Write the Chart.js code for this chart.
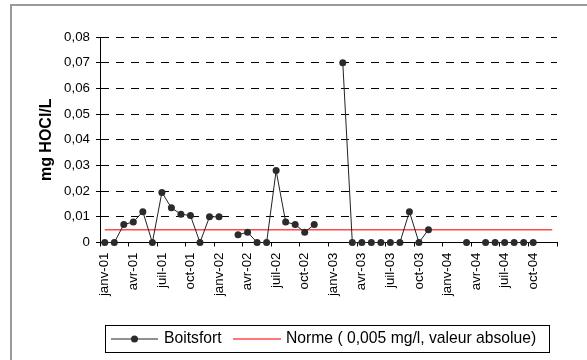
<!DOCTYPE html>
<html>
<head>
<meta charset="utf-8">
<script src="https://cdn.jsdelivr.net/npm/chart.js@4/dist/chart.umd.min.js"></script>
<style>
  html, body { margin: 0; padding: 0; background: #fff; }
  #wrap { width: 587px; height: 360px; position: relative; }
</style>
</head>
<body>
<div id="wrap"><canvas id="chart" width="587" height="360"></canvas></div>
<script>
const categories = [
  'janv-01', 'févr-01', 'mars-01', 'avr-01', 'mai-01', 'juin-01', 'juil-01', 'août-01', 'sept-01', 'oct-01', 'nov-01', 'déc-01',
  'janv-02', 'févr-02', 'mars-02', 'avr-02', 'mai-02', 'juin-02', 'juil-02', 'août-02', 'sept-02', 'oct-02', 'nov-02', 'déc-02',
  'janv-03', 'févr-03', 'mars-03', 'avr-03', 'mai-03', 'juin-03', 'juil-03', 'août-03', 'sept-03', 'oct-03', 'nov-03', 'déc-03',
  'janv-04', 'févr-04', 'mars-04', 'avr-04', 'mai-04', 'juin-04', 'juil-04', 'août-04', 'sept-04', 'oct-04', 'nov-04', 'déc-04',
];

const boitsfort = [
  0, 0, 0.007, 0.008, 0.012, 0, 0.0195, 0.0135, 0.011, 0.0105, 0, 0.01,
  0.01, null, 0.003, 0.004, 0, 0, 0.028, 0.008, 0.007, 0.004, 0.007, null,
  null, 0.07, 0, 0, 0, 0, 0, 0, 0.012, 0, 0.005, null,
  null, null, 0, null, 0, 0, 0, 0, 0, 0, null, null,
];

const norme = [
  0.005, 0.005, 0.005, 0.005, 0.005, 0.005, 0.005, 0.005, 0.005, 0.005, 0.005, 0.005,
  0.005, 0.005, 0.005, 0.005, 0.005, 0.005, 0.005, 0.005, 0.005, 0.005, 0.005, 0.005,
  0.005, 0.005, 0.005, 0.005, 0.005, 0.005, 0.005, 0.005, 0.005, 0.005, 0.005, 0.005,
  0.005, 0.005, 0.005, 0.005, 0.005, 0.005, 0.005, 0.005, 0.005, 0.005, 0.005, 0.005,
];

const FONT = "'Liberation Sans', Arial, sans-serif";

/* PLUGINS */

// grey frame around the whole chart
const frame = {
  id: 'frame',
  beforeDraw(chart) {
    const { ctx } = chart;
    ctx.save();
    ctx.fillStyle = '#fff';
    ctx.fillRect(0, 0, chart.width, chart.height);
    ctx.strokeStyle = '#999';
    ctx.lineWidth = 2;
    ctx.strokeRect(11, 5, 600, 400);
    ctx.restore();
  },
};

// boxed legend under the axis, line + marker samples
const boxLegend = {
  id: 'boxLegend',
  afterDraw(chart) {
    const { ctx } = chart;
    const sets = chart.data.datasets;
    const y = 339;

    ctx.save();
    ctx.strokeStyle = '#000';
    ctx.lineWidth = 1;
    ctx.strokeRect(105.5, 325.5, 444, 27);

    ctx.font = `15.7px ${FONT}`;
    ctx.textBaseline = 'middle';
    ctx.fillStyle = '#000';

    // Boitsfort
    ctx.strokeStyle = sets[0].borderColor;
    ctx.beginPath();
    ctx.moveTo(111, y);
    ctx.lineTo(158, y);
    ctx.stroke();
    ctx.fillStyle = sets[0].pointBackgroundColor;
    ctx.beginPath();
    ctx.arc(134.5, y, 3.5, 0, Math.PI * 2);
    ctx.fill();
    ctx.fillStyle = '#000';
    ctx.fillText(sets[0].label, 164, y);

    // Norme
    ctx.strokeStyle = sets[1].borderColor;
    ctx.lineWidth = sets[1].borderWidth;
    ctx.beginPath();
    ctx.moveTo(233, y);
    ctx.lineTo(281, y);
    ctx.stroke();
    ctx.fillText(sets[1].label, 286, y);
    ctx.restore();
  },
};

/* CHART */

const ctx = document.getElementById('chart').getContext('2d');

new Chart(ctx, {
  type: 'line',
  data: {
    labels: categories,
    datasets: [
      {
        label: 'Boitsfort',
        data: boitsfort,
        borderColor: '#222',
        borderWidth: 1,
        pointBackgroundColor: '#2b2b2b',
        pointBorderColor: '#2b2b2b',
        pointRadius: 3.5,
        pointBorderWidth: 0,
        spanGaps: false,
        clip: false,
      },
      {
        label: 'Norme ( 0,005 mg/l, valeur absolue)',
        data: norme,
        borderColor: '#ff4a4a',
        borderWidth: 1.5,
        pointRadius: 0,
        clip: false,
      },
    ],
  },
  options: {
    responsive: false,
    animation: false,
    layout: { padding: { left: 0, right: 30, top: 37, bottom: 0 } },
    plugins: {
      legend: { display: false },
      tooltip: { enabled: false },
    },
    scales: {
      x: {
        type: 'category',
        offset: true,
        grid: {
          offset: true,
          drawOnChartArea: false,
          drawTicks: true,
          tickLength: 4,
          color: (c) => ((c.index === undefined || c.index % 3 === 0) ? '#000' : 'rgba(0,0,0,0)'),
        },
        border: { display: true, color: '#000', width: 1 },
        ticks: {
          autoSkip: false,
          minRotation: 90,
          maxRotation: 90,
          padding: 6,
          color: '#000',
          font: { family: FONT, size: 13.3 },
          callback: (v, i) => (i % 3 === 0 ? categories[i] : ''),
        },
        afterFit(scale) {
          scale.height = 117.5;
        },
      },
      y: {
        min: 0,
        max: 0.08,
        grid: { color: '#000', tickLength: 4, drawTicks: true },
        border: { display: true, color: '#000', width: 1, dash: [8, 7] },
        ticks: {
          stepSize: 0.01,
          padding: 6,
          color: '#000',
          font: { family: FONT, size: 13.3 },
          callback: (v) => (v === 0 ? '0' : v.toFixed(2).replace('.', ',')),
        },
        title: {
          display: true,
          text: 'mg HOCl/L',
          color: '#000',
          font: { family: FONT, size: 16, weight: 'bold' },
          padding: { top: 37, bottom: 0 },
        },
        afterFit(scale) {
          scale.width = 100;
        },
      },
    },
  },
  plugins: [frame, boxLegend],
});
</script>
</body>
</html>
